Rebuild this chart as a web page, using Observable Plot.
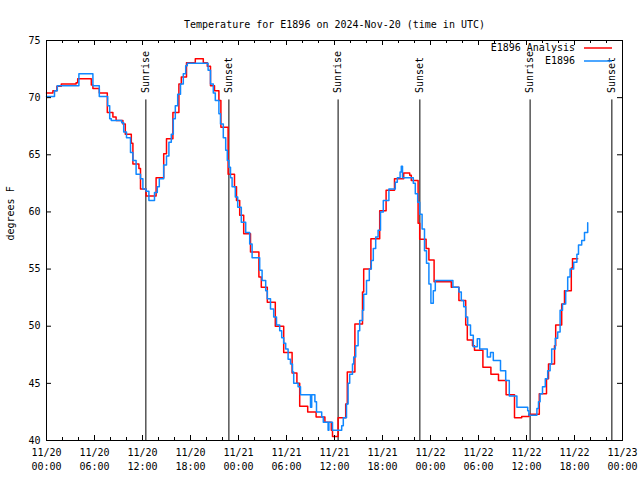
<!DOCTYPE html>
<html><head><meta charset="utf-8">
<script src="https://cdn.jsdelivr.net/npm/d3@7"></script>
<script src="https://cdn.jsdelivr.net/npm/@observablehq/plot@0.6"></script>
<style>body{margin:0;background:#fff;}</style>
</head><body><div id="chart"></div>
<script>
const title = "Temperature for E1896 on 2024-Nov-20 (time in UTC)";
const yLabel = "degrees F";
const seriesNames = ["E1896 Analysis", "E1896"];
const seriesColors = ["#ff0000", "#1188ff"];
const startUTC = Date.UTC(2024, 10, 20, 0, 0);
const endHours = 72;

// [hours since 11/20 00:00 UTC, temperature F]
const analysisSeries = [[0,70.4],[0.8,70.6],[1.3,71.0],[1.85,71.2],[3.7,71.3],[3.9,71.65],[5.6,71.1],[5.8,70.8],[6.6,70.4],[7.6,68.7],[8.3,68.3],[8.7,68.0],[9.55,67.7],[9.85,66.8],[10.6,66.0],[10.8,64.2],[11.55,63.8],[11.75,62.0],[12.45,61.4],[13.7,63.0],[14.65,65.1],[15.0,66.4],[15.8,68.7],[16.55,71.2],[16.85,71.8],[17.5,73.05],[18.6,73.4],[19.6,73.05],[20.1,72.75],[20.5,71.05],[21.0,70.6],[21.55,69.75],[21.8,67.4],[22.7,63.3],[23.5,62.2],[23.75,61.0],[24.15,59.7],[24.65,58.1],[25.5,56.5],[26.55,54.3],[26.85,53.4],[27.6,52.1],[28.6,50.0],[29.65,47.7],[30.7,45.9],[31.3,45.0],[31.65,43.0],[32.65,42.5],[33.7,42.05],[34.8,41.6],[35.6,40.9],[35.75,40.35],[36.45,42.0],[37.4,43.2],[37.6,46.0],[38.55,50.2],[39.5,53.0],[39.65,55.0],[40.55,57.65],[41.65,60.1],[42.45,61.9],[43.5,62.9],[44.65,63.4],[45.4,63.2],[45.6,62.75],[46.45,59.0],[46.65,57.6],[47.45,56.8],[47.8,55.8],[48.45,53.9],[50.6,53.4],[51.55,52.25],[52.4,50.1],[52.6,48.8],[53.25,48.3],[53.5,47.9],[54.55,46.4],[55.55,45.8],[56.5,45.25],[57.45,44.0],[58.5,42.0],[59.4,42.1],[60.3,42.3],[61.6,44.1],[62.5,45.4],[62.75,46.7],[63.5,48.3],[63.65,50.1],[64.4,51.95],[64.75,53.1],[65.6,55.1],[65.75,55.9],[66.4,55.9]];

const stationSeries = [[0,70.1],[1.0,70.6],[1.35,71.05],[4.05,72.1],[5.8,71.05],[6.6,70.1],[7.65,69.3],[7.9,68.15],[8.1,68.0],[9.4,67.8],[9.65,67.0],[10.0,66.5],[10.5,65.2],[10.8,64.5],[11.2,63.3],[11.75,62.9],[12.05,62.0],[12.45,61.8],[12.8,61.0],[13.5,61.7],[13.85,62.2],[14.1,62.9],[14.65,64.1],[15.0,64.9],[15.3,66.1],[15.6,66.8],[15.85,68.15],[16.1,69.3],[16.4,70.3],[16.75,71.2],[17.1,72.1],[17.4,72.8],[17.6,73.0],[20.2,72.4],[20.5,71.2],[20.85,70.4],[21.1,69.75],[21.55,68.6],[21.75,67.7],[22.1,66.5],[22.4,65.4],[22.6,64.5],[22.8,63.9],[23.0,63.0],[23.2,62.2],[23.6,61.3],[23.9,60.4],[24.35,59.1],[24.9,58.2],[25.4,57.2],[25.7,56.0],[26.65,54.9],[26.95,54.0],[27.4,53.1],[27.6,52.4],[28.0,51.5],[28.4,50.8],[28.75,50.1],[29.15,49.6],[29.4,49.0],[29.65,48.5],[29.9,48.0],[30.2,47.1],[30.5,46.7],[30.75,46.0],[30.9,45.0],[31.45,44.7],[31.75,44.0],[33.0,42.9],[33.15,44.0],[33.55,43.4],[33.75,42.5],[34.4,42.05],[34.6,41.6],[35.2,40.9],[35.3,41.6],[35.75,40.9],[36.9,41.3],[37.1,42.0],[37.5,43.2],[37.7,45.0],[37.9,45.8],[38.25,46.7],[38.4,47.3],[38.65,48.3],[38.95,49.6],[39.15,50.5],[39.5,51.4],[39.65,52.8],[40.0,54.0],[40.35,55.0],[40.6,55.75],[40.85,56.8],[41.15,57.8],[41.45,58.4],[41.75,60.0],[42.1,61.0],[42.8,62.0],[43.6,62.6],[43.85,63.0],[44.2,63.5],[44.35,64.0],[44.5,63.0],[45.85,62.5],[46.1,61.6],[46.4,60.85],[46.65,59.8],[46.95,58.5],[47.25,56.6],[47.5,55.5],[47.8,53.7],[48.05,52.0],[48.35,53.1],[48.6,54.0],[50.8,53.4],[51.55,53.0],[51.85,52.25],[52.15,51.7],[52.4,50.8],[52.65,50.1],[53.0,49.2],[53.35,48.2],[53.85,48.9],[54.15,48.0],[55.1,47.3],[55.5,47.7],[55.85,47.0],[56.75,46.1],[57.4,45.25],[57.85,43.9],[58.8,42.9],[60.15,42.6],[60.3,42.2],[61.3,42.8],[61.5,43.4],[61.7,44.1],[62.0,44.7],[62.35,45.4],[62.65,46.1],[62.95,46.7],[63.15,48.0],[63.6,48.95],[63.9,49.5],[64.2,51.4],[64.5,51.95],[64.9,53.1],[65.15,54.3],[65.45,55.0],[65.9,55.6],[66.3,56.3],[66.5,57.1],[66.9,57.5],[67.25,58.2],[67.65,59.05]];

const sunNames = ["Sunrise","Sunset","Sunrise","Sunset","Sunrise","Sunset"];
const sunHours = [12.42, 22.8, 36.45, 46.67, 60.45, 70.67];

const xTickHours = [0,6,12,18,24,30,36,42,48,54,60,66,72];
const xTickLabels = ["11/20\n00:00","11/20\n06:00","11/20\n12:00","11/20\n18:00","11/21\n00:00","11/21\n06:00","11/21\n12:00","11/21\n18:00","11/22\n00:00","11/22\n06:00","11/22\n12:00","11/22\n18:00","11/23\n00:00"];
const xMinorHours = [2,4,8,10,14,16,20,22,26,28,32,34,38,40,44,46,50,52,56,58,62,64,68,70];
const yTicks = [40,45,50,55,60,65,70,75];

const toDate = h => new Date(startUTC + h * 3600e3);
const W = 640, H = 480, mL = 46, mR = 18, mT = 40, mB = 40;
const fw = W - mL - mR, fh = H - mT - mB;

const red = analysisSeries.map(([h, t]) => ({date: toDate(h), t}));
const blue = stationSeries.map(([h, t]) => ({date: toDate(h), t}));
const sun = sunHours.map((h, i) => ({date: toDate(h), name: sunNames[i]}));
const xMajor = xTickHours.map((h, i) => ({date: toDate(h), label: xTickLabels[i]}));
const xMinor = xMinorHours.map(toDate);

const chart = Plot.plot({
  width: W, height: H,
  marginLeft: mL, marginRight: mR, marginTop: mT, marginBottom: mB,
  style: {fontFamily: "DejaVu Sans Mono", fontSize: "10px", background: "#fff", color: "#000"},
  x: {type: "utc", domain: [toDate(0), toDate(endHours)], axis: null},
  y: {domain: [40, 75], axis: null},
  marks: [
    Plot.ruleX(sun, {x: "date", y1: 40, y2: 69.8, stroke: "#000", strokeWidth: 1}),
    Plot.text(sun, {x: "date", y: 70.4, text: "name", rotate: -90, textAnchor: "start", fontSize: 10, fill: "#000"}),
    Plot.line(red, {x: "date", y: "t", curve: "step-after", stroke: seriesColors[0], strokeWidth: 1.5}),
    Plot.line(blue, {x: "date", y: "t", curve: "step-after", stroke: seriesColors[1], strokeWidth: 1.5}),
    Plot.frame({stroke: "#000", strokeWidth: 1}),
    Plot.tickX(xMajor, {x: "date", insetTop: fh - 5, stroke: "#000"}),
    Plot.tickX(xMajor, {x: "date", insetBottom: fh - 5, stroke: "#000"}),
    Plot.tickX(xMinor, {x: d => d, insetTop: fh - 3, stroke: "#000"}),
    Plot.tickX(xMinor, {x: d => d, insetBottom: fh - 3, stroke: "#000"}),
    Plot.tickY(yTicks, {y: d => d, insetRight: fw - 5, stroke: "#000"}),
    Plot.tickY(yTicks, {y: d => d, insetLeft: fw - 5, stroke: "#000"}),
    Plot.text(xMajor, {x: "date", text: "label", frameAnchor: "bottom", dy: 6, lineAnchor: "top", lineHeight: 1.4, fontSize: 10, fill: "#000"}),
    Plot.text(yTicks, {y: d => d, text: d => String(d), frameAnchor: "left", dx: -6, textAnchor: "end", fontSize: 10, fill: "#000"}),
    Plot.text([yLabel], {frameAnchor: "left", dx: -36, rotate: -90, fontSize: 10, fill: "#000"}),
    Plot.text([title], {frameAnchor: "top", dy: -20, fontSize: 10, fill: "#000"})
  ]
});

// legend entries (inside frame, top-right)
const svg = d3.select(chart);
const legendG = svg.append("g").attr("font-family", "DejaVu Sans Mono").attr("font-size", 10);
seriesNames.forEach((name, i) => {
  const y = mT + 8 + i * 13;
  legendG.append("text").attr("x", W - mR - 47).attr("y", y).attr("dy", "0.32em").attr("text-anchor", "end").attr("fill", "#000").text(name);
  legendG.append("line").attr("x1", W - mR - 38).attr("x2", W - mR - 10).attr("y1", y).attr("y2", y).attr("stroke", seriesColors[i]).attr("stroke-width", 1.5);
});
document.getElementById("chart").appendChild(chart);
</script>
</body></html>
